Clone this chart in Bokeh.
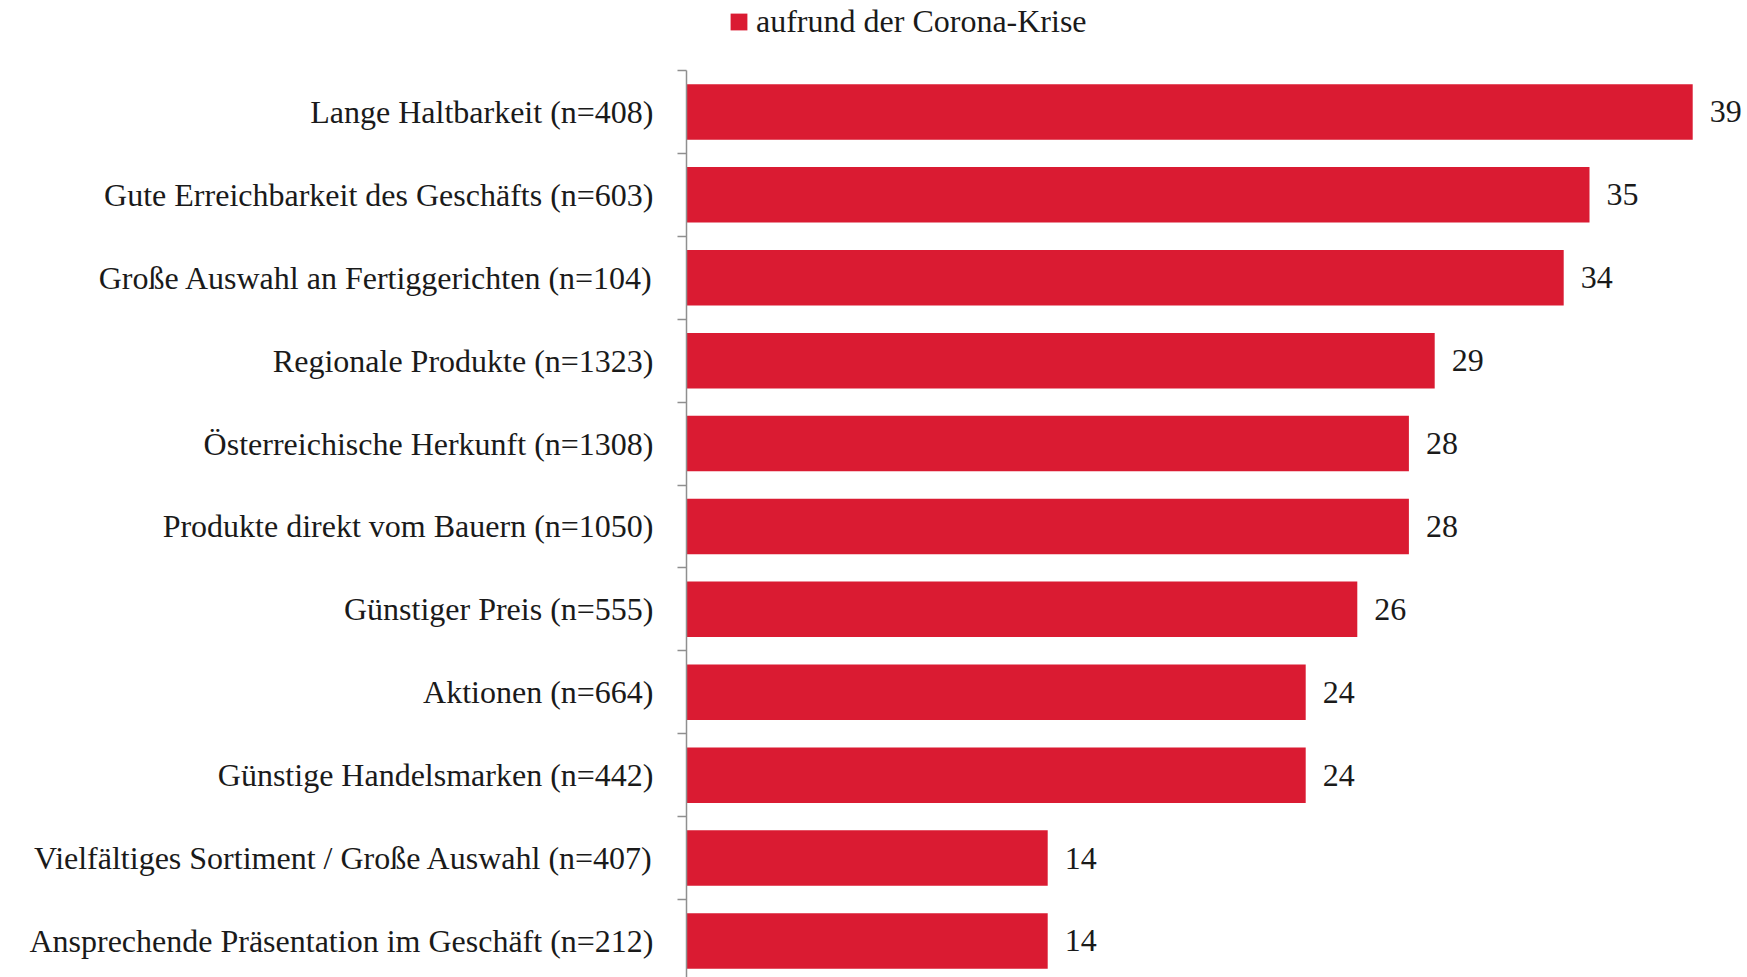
from bokeh.plotting import figure
from bokeh.models import (ColumnDataSource, Range1d, FixedTicker, LabelSet,
                          Legend, LegendItem)
from bokeh.embed import file_html
from bokeh.resources import INLINE

categories = [
    "Lange Haltbarkeit (n=408)",
    "Gute Erreichbarkeit des Geschäfts (n=603)",
    "Große Auswahl an Fertiggerichten (n=104)",
    "Regionale Produkte (n=1323)",
    "Österreichische Herkunft (n=1308)",
    "Produkte direkt vom Bauern (n=1050)",
    "Günstiger Preis (n=555)",
    "Aktionen (n=664)",
    "Günstige Handelsmarken (n=442)",
    "Vielfältiges Sortiment / Große Auswahl (n=407)",
    "Ansprechende Präsentation im Geschäft (n=212)",
]
values = [39, 35, 34, 29, 28, 28, 26, 24, 24, 14, 14]
series_name = "aufrund der Corona-Krise"

FONT = "Liberation Serif"
RED = "#DA1B32"
TEXT = "#1a1a1a"
AXIS = "#8f8f8f"

pos = list(range(len(categories)))
src = ColumnDataSource(dict(pos=pos, value=values,
                            label=[str(v) for v in values]))

W, H = 1747, 977
LEFT, AXIS_TOP = 686, 70
p = figure(width=W, height=H, output_backend="svg", toolbar_location=None,
           x_axis_location=None, y_axis_location="left",
           min_border_left=LEFT, min_border_right=0,
           min_border_top=0, min_border_bottom=0)
frame_w = W - LEFT
px_per_unit_x = 25.8
px_per_band = 82.9
y_top = -0.5 - AXIS_TOP / px_per_band
y_bottom = -0.5 + (H - AXIS_TOP) / px_per_band
p.x_range = Range1d(0, frame_w / px_per_unit_x)
p.y_range = Range1d(y_bottom, y_top)

bars = p.hbar(y="pos", right="value", left=0, height=0.67, source=src,
              fill_color=RED, line_color=None)

p.add_layout(LabelSet(x="value", y="pos", text="label", source=src,
                      x_offset=17, text_baseline="middle",
                      text_font=FONT, text_font_size="32px",
                      text_color=TEXT))

ax = p.yaxis[0]
ax.bounds = (-0.5, y_bottom)
ax.ticker = FixedTicker(ticks=pos, minor_ticks=[i - 0.5 for i in pos])
ax.major_label_overrides = {i: c for i, c in zip(pos, categories)}
ax.major_label_text_font = FONT
ax.major_label_text_font_size = "32px"
ax.major_label_text_color = TEXT
ax.major_label_standoff = 24
ax.major_tick_out = 0
ax.major_tick_in = 0
ax.minor_tick_out = 9
ax.minor_tick_in = 0
ax.minor_tick_line_color = AXIS
ax.minor_tick_line_width = 1.5
ax.axis_line_color = AXIS
ax.axis_line_width = 1.5

p.xgrid.visible = False
p.ygrid.visible = False
p.outline_line_color = None

legend = Legend(items=[LegendItem(label=series_name, renderers=[bars])],
                location=(42, 937), orientation="horizontal",
                glyph_width=21, glyph_height=21, label_standoff=7,
                label_text_font=FONT, label_text_font_size="32px",
                label_text_color=TEXT, padding=0, margin=0,
                border_line_color=None, background_fill_alpha=0)
p.add_layout(legend, "center")

open("out.html", "w").write(file_html(p, INLINE))
